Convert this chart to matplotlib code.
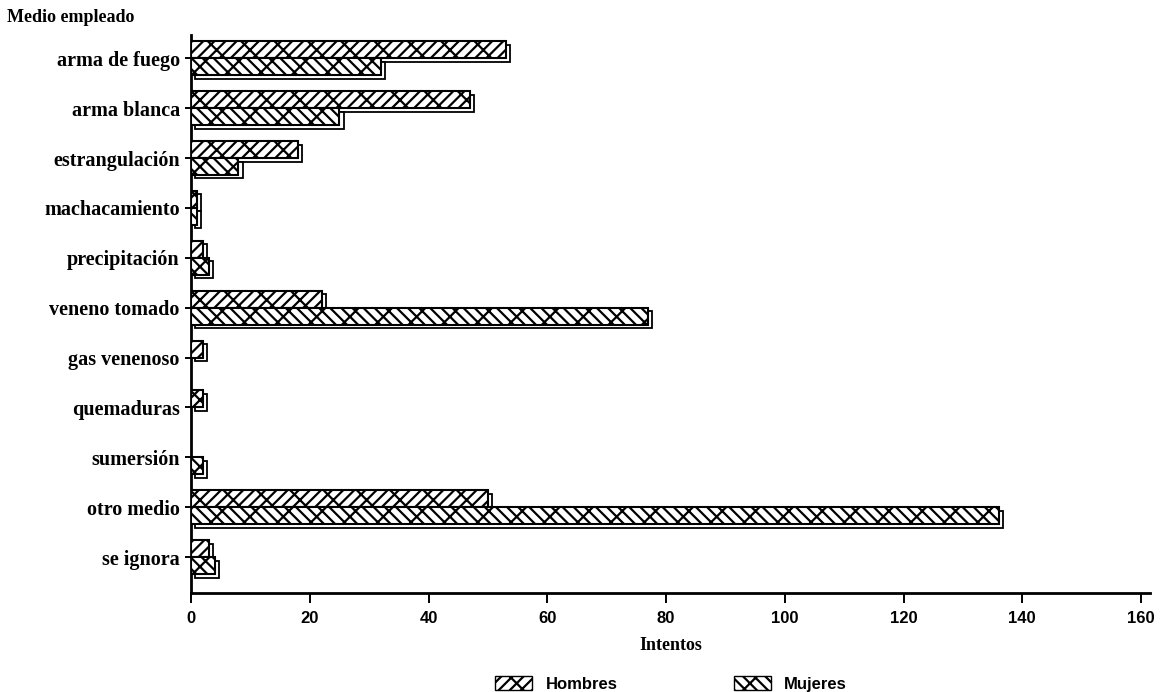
import matplotlib.pyplot as plt
from matplotlib.patches import Patch
import numpy as np

categories = ['arma de fuego', 'arma blanca', 'estrangulación', 'machacamiento',
              'precipitación', 'veneno tomado', 'gas venenoso', 'quemaduras',
              'sumersión', 'otro medio', 'se ignora']
hombres = [53, 47, 18, 1, 2, 22, 2, 2, 0, 50, 3]
mujeres = [32, 25, 8, 1, 3, 77, 0, 0, 2, 136, 4]
xticks = [0, 20, 40, 60, 80, 100, 120, 140, 160]

plt.rcParams['hatch.linewidth'] = 1.6
serif = 'Liberation Serif'
sans = 'Liberation Sans'

fig = plt.figure(figsize=(11.61, 6.92), dpi=100)
ax = fig.add_axes([0.1645, 0.143, 0.826, 0.806])

y = np.arange(len(categories))
h = 0.34
dx, dy = 0.7, 0.07

def draw_bars(pos, vals, hatch):
    vals = np.array(vals, dtype=float)
    keep = vals > 0
    # back face for the 3d look
    ax.barh(pos[keep] + dy, vals[keep], left=dx, height=h, color='white',
            edgecolor='black', linewidth=1.3, zorder=2)
    ax.barh(pos[keep], vals[keep], height=h, color='white', edgecolor='black',
            hatch=hatch, linewidth=1.5, zorder=3)

draw_bars(y - h / 2, hombres, '//x')
draw_bars(y + h / 2, mujeres, '\\\\x')

ax.set_xlim(0, 161.5)
ax.set_ylim(10.72, -0.46)
ax.set_yticks(y)
ax.set_yticklabels(categories, fontfamily=serif, fontweight='bold', fontsize=14.5)
ax.set_xticks(xticks)
ax.set_xticklabels([str(t) for t in xticks], fontfamily=sans, fontweight='bold', fontsize=12)
ax.tick_params(axis='y', length=8, width=1.4, direction='inout', pad=4)
ax.tick_params(axis='x', length=7, width=1.4, direction='out', pad=6)
for s in ['top', 'right']:
    ax.spines[s].set_visible(False)
ax.spines['left'].set_linewidth(2)
ax.spines['bottom'].set_linewidth(2)

ax.set_xlabel('Intentos', fontfamily=serif, fontweight='bold', fontsize=13, labelpad=8)
fig.text(0.006, 0.975, 'Medio empleado', fontfamily=serif, fontweight='bold',
         fontsize=13, va='center', ha='left')

handles = [Patch(facecolor='white', edgecolor='black', hatch='//x', label='Hombres'),
           Patch(facecolor='white', edgecolor='black', hatch='\\\\x', label='Mujeres')]
fig.legend(handles=handles, loc='center', bbox_to_anchor=(0.578, 0.012), ncol=2,
           frameon=False, columnspacing=7, handlelength=2.2, handleheight=0.9,
           prop={'family': sans, 'weight': 'bold', 'size': 12})

fig.savefig('out.png', dpi=100)
